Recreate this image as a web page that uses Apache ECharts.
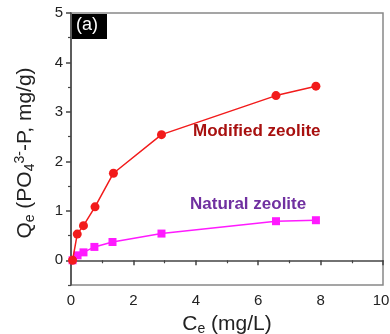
<!DOCTYPE html>
<html><head><meta charset="utf-8">
<script src="https://cdn.jsdelivr.net/npm/echarts@6/dist/echarts.min.js"></script>
<style>html,body{margin:0;padding:0;background:#fff}#c{width:390px;height:334px}</style>
</head><body><div id="c"></div>
<script>
const modifiedX = [0.05, 0.2, 0.4, 0.77, 1.36, 2.9, 6.57, 7.85];
const modifiedY = [0.0, 0.53, 0.70, 1.08, 1.76, 2.54, 3.33, 3.52];
const naturalX = [0.05, 0.21, 0.4, 0.75, 1.33, 2.9, 6.57, 7.85];
const naturalY = [0.0, 0.10, 0.16, 0.27, 0.37, 0.54, 0.79, 0.81];
const yMajorTicks = [0, 1, 2, 3, 4, 5];
const yMinorTicks = [-0.5, 0.5, 1.5, 2.5, 3.5, 4.5];

const F = 'Liberation Sans, Arial, sans-serif';
const axisCol = '#444';
const chart = echarts.init(document.getElementById('c'), null, {renderer: 'canvas'});
chart.setOption({
  animation: false,
  grid: {left: 71, right: 7, top: 13, bottom: 49, show: true, borderColor: '#888', borderWidth: 1.5,
         containLabel: false, outerBoundsMode: 'none'},
  xAxis: {
    type: 'value', min: 0, max: 10, interval: 2,
    name: '{a|C}{s|e}{a| (mg/L)}', nameLocation: 'middle', nameGap: 27,
    nameTextStyle: {rich: {
      a: {fontFamily: F, fontSize: 21, color: '#222', lineHeight: 24, verticalAlign: 'middle'},
      s: {fontFamily: F, fontSize: 14, color: '#222', lineHeight: 13, verticalAlign: 'bottom'}
    }},
    axisLine: {lineStyle: {color: axisCol, width: 1.5}},
    axisTick: {inside: false, length: 5, lineStyle: {color: axisCol, width: 1.5}},
    minorTick: {show: true, splitNumber: 2, length: 3, lineStyle: {color: axisCol, width: 1.2}},
    axisLabel: {fontFamily: F, fontSize: 15, color: '#222', margin: 8,
      formatter: v => v === 10 ? '{r|10}' : String(v),
      rich: {r: {fontFamily: F, fontSize: 15, color: '#222', padding: [0, 4, 0, 0]}}},
    splitLine: {show: false}
  },
  yAxis: [{
    type: 'value', min: -0.5, max: 5,
    name: '{a|Q}{s|e}{a| (PO}{s|4}{p|3-}{a|-P, mg/g)}', nameLocation: 'middle', nameGap: 34, nameRotate: 90,
    nameTextStyle: {padding: [0, 8, 0, 0], rich: {
      a: {fontFamily: F, fontSize: 21, color: '#222', lineHeight: 24, verticalAlign: 'middle'},
      s: {fontFamily: F, fontSize: 14, color: '#222', lineHeight: 13, verticalAlign: 'bottom'},
      p: {fontFamily: F, fontSize: 14, color: '#222', lineHeight: 13, verticalAlign: 'top'}
    }},
    axisLine: {lineStyle: {color: axisCol, width: 1.5}},
    axisTick: {inside: false, length: 5, customValues: yMajorTicks, lineStyle: {color: axisCol, width: 1.5}},
    axisLabel: {fontFamily: F, fontSize: 15, color: '#222', margin: 8, customValues: yMajorTicks},
    splitLine: {show: false}
  }, {
    type: 'value', min: -0.5, max: 5, position: 'left',
    axisLine: {show: false},
    axisTick: {inside: false, length: 3, customValues: yMinorTicks, lineStyle: {color: axisCol, width: 1.2}},
    axisLabel: {show: false},
    splitLine: {show: false}
  }],
  series: [{
    name: 'Natural zeolite', type: 'line', z: 2,
    data: naturalX.map((x, i) => [x, naturalY[i]]),
    symbol: 'rect', symbolSize: 8,
    itemStyle: {color: '#ff1aff'}, lineStyle: {color: '#ff1aff', width: 1.5}
  }, {
    name: 'Modified zeolite', type: 'line', z: 3,
    data: modifiedX.map((x, i) => [x, modifiedY[i]]),
    symbol: 'circle', symbolSize: 9,
    itemStyle: {color: '#f21b1b'}, lineStyle: {color: '#f21b1b', width: 1.5}
  }],
  graphic: [
    {type: 'rect', left: 72, top: 14, shape: {width: 35, height: 25}, style: {fill: '#000'}, z: 10},
    {type: 'text', left: 76, top: 16, style: {text: '(a)', fill: '#fff', font: '18px ' + F}, z: 11},
    {type: 'text', left: 193, top: 123, style: {text: 'Modified zeolite', fill: '#a8100f', font: 'bold 17px ' + F}, z: 11},
    {type: 'text', left: 190, top: 196, style: {text: 'Natural zeolite', fill: '#7030a0', font: 'bold 17px ' + F}, z: 11}
  ]
});
</script></body></html>
